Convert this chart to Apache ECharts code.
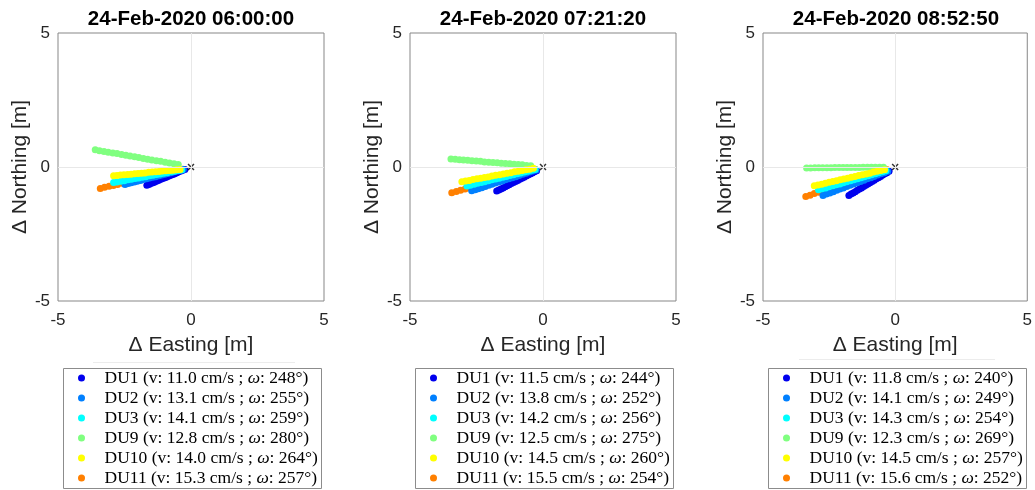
<!DOCTYPE html>
<html>
<head>
<meta charset="utf-8">
<script src="https://cdn.jsdelivr.net/npm/echarts@6/dist/echarts.min.js"></script>
<style>html,body{margin:0;padding:0;background:#fff}#c{width:1035px;height:490px}</style>
</head>
<body>
<div id="c"></div>
<script>
// ---------- DATA ----------
const titles = ['24-Feb-2020 06:00:00', '24-Feb-2020 07:21:20', '24-Feb-2020 08:52:50'];
const drifters = ['DU1', 'DU2', 'DU3', 'DU9', 'DU10', 'DU11'];
const speeds1 = [11.0, 13.1, 14.1, 12.8, 14.0, 15.3];
const dirs1 = [248, 255, 259, 280, 264, 257];
const speeds2 = [11.5, 13.8, 14.2, 12.5, 14.5, 15.5];
const dirs2 = [244, 252, 256, 275, 260, 254];
const speeds3 = [11.8, 14.1, 14.3, 12.3, 14.5, 15.6];
const dirs3 = [240, 249, 254, 269, 257, 252];
const axisTicks = [-5, 0, 5];

// panel 1 tracks (Δ Easting, Δ Northing) in m
const p1_DU1_x = [-0.23,-0.31,-0.38,-0.46,-0.53,-0.61,-0.68,-0.76,-0.83,-0.91,-0.98,-1.06,-1.13,-1.21,-1.28,-1.36,-1.43,-1.51,-1.58,-1.66];
const p1_DU1_y = [-0.09,-0.12,-0.15,-0.18,-0.21,-0.25,-0.28,-0.31,-0.34,-0.37,-0.40,-0.43,-0.46,-0.49,-0.52,-0.56,-0.59,-0.62,-0.65,-0.68];
const p1_DU2_x = [-0.29,-0.41,-0.52,-0.64,-0.75,-0.87,-0.98,-1.10,-1.21,-1.33,-1.44,-1.56,-1.67,-1.79,-1.90,-2.02,-2.13,-2.25,-2.36,-2.48];
const p1_DU2_y = [-0.09,-0.12,-0.15,-0.18,-0.21,-0.24,-0.27,-0.30,-0.33,-0.36,-0.38,-0.41,-0.44,-0.47,-0.50,-0.53,-0.56,-0.59,-0.62,-0.65];
const p1_DU3_x = [-0.35,-0.48,-0.62,-0.75,-0.89,-1.02,-1.16,-1.29,-1.43,-1.56,-1.70,-1.83,-1.97,-2.10,-2.24,-2.37,-2.51,-2.64,-2.78,-2.91];
const p1_DU3_y = [-0.11,-0.13,-0.16,-0.18,-0.21,-0.23,-0.26,-0.28,-0.31,-0.33,-0.36,-0.38,-0.41,-0.43,-0.46,-0.48,-0.51,-0.53,-0.56,-0.58];
const p1_DU9_x = [-0.48,-0.64,-0.81,-0.97,-1.14,-1.30,-1.47,-1.63,-1.79,-1.96,-2.12,-2.29,-2.45,-2.61,-2.78,-2.94,-3.11,-3.27,-3.44,-3.60];
const p1_DU9_y = [0.09,0.12,0.15,0.18,0.21,0.23,0.26,0.29,0.32,0.35,0.38,0.41,0.44,0.47,0.50,0.52,0.55,0.58,0.61,0.64];
const p1_DU10_x = [-0.41,-0.54,-0.67,-0.80,-0.94,-1.07,-1.20,-1.33,-1.46,-1.59,-1.73,-1.86,-1.99,-2.12,-2.25,-2.38,-2.52,-2.65,-2.78,-2.91];
const p1_DU10_y = [-0.09,-0.10,-0.12,-0.13,-0.14,-0.15,-0.17,-0.18,-0.19,-0.20,-0.22,-0.23,-0.24,-0.25,-0.27,-0.28,-0.29,-0.30,-0.32,-0.33];
const p1_DU11_x = [-0.31,-0.47,-0.64,-0.80,-0.96,-1.13,-1.29,-1.45,-1.62,-1.78,-1.94,-2.11,-2.27,-2.43,-2.59,-2.76,-2.92,-3.08,-3.25,-3.41];
const p1_DU11_y = [-0.08,-0.12,-0.16,-0.19,-0.23,-0.27,-0.31,-0.35,-0.38,-0.42,-0.46,-0.50,-0.53,-0.57,-0.61,-0.65,-0.69,-0.72,-0.76,-0.80];

// panel 2 tracks
const p2_DU1_x = [-0.24,-0.32,-0.40,-0.48,-0.56,-0.63,-0.71,-0.79,-0.87,-0.95,-1.03,-1.11,-1.19,-1.27,-1.35,-1.42,-1.50,-1.58,-1.66,-1.74];
const p2_DU1_y = [-0.14,-0.18,-0.22,-0.26,-0.30,-0.34,-0.38,-0.42,-0.46,-0.50,-0.54,-0.58,-0.62,-0.66,-0.70,-0.74,-0.78,-0.82,-0.86,-0.90];
const p2_DU2_x = [-0.26,-0.39,-0.51,-0.64,-0.77,-0.90,-1.02,-1.15,-1.28,-1.41,-1.53,-1.66,-1.79,-1.92,-2.04,-2.17,-2.30,-2.43,-2.55,-2.68];
const p2_DU2_y = [-0.11,-0.15,-0.19,-0.23,-0.27,-0.32,-0.36,-0.40,-0.44,-0.48,-0.52,-0.56,-0.60,-0.64,-0.68,-0.73,-0.77,-0.81,-0.85,-0.89];
const p2_DU3_x = [-0.30,-0.43,-0.57,-0.70,-0.84,-0.97,-1.11,-1.24,-1.38,-1.51,-1.65,-1.78,-1.92,-2.05,-2.19,-2.32,-2.46,-2.59,-2.73,-2.86];
const p2_DU3_y = [-0.09,-0.12,-0.16,-0.19,-0.22,-0.25,-0.29,-0.32,-0.35,-0.38,-0.42,-0.45,-0.48,-0.51,-0.55,-0.58,-0.61,-0.64,-0.68,-0.71];
const p2_DU9_x = [-0.46,-0.62,-0.78,-0.93,-1.09,-1.25,-1.41,-1.57,-1.72,-1.88,-2.04,-2.20,-2.35,-2.51,-2.67,-2.83,-2.99,-3.14,-3.30,-3.46];
const p2_DU9_y = [0.05,0.06,0.08,0.09,0.10,0.12,0.13,0.14,0.16,0.17,0.18,0.19,0.21,0.22,0.23,0.25,0.26,0.27,0.29,0.30];
const p2_DU10_x = [-0.36,-0.50,-0.64,-0.78,-0.93,-1.07,-1.21,-1.35,-1.49,-1.63,-1.78,-1.92,-2.06,-2.20,-2.34,-2.48,-2.63,-2.77,-2.91,-3.05];
const p2_DU10_y = [-0.05,-0.08,-0.10,-0.13,-0.16,-0.18,-0.21,-0.23,-0.26,-0.29,-0.31,-0.34,-0.37,-0.39,-0.42,-0.44,-0.47,-0.50,-0.52,-0.55];
const p2_DU11_x = [-0.28,-0.45,-0.61,-0.78,-0.94,-1.11,-1.27,-1.44,-1.61,-1.77,-1.94,-2.10,-2.27,-2.44,-2.60,-2.77,-2.93,-3.10,-3.26,-3.43];
const p2_DU11_y = [-0.10,-0.15,-0.19,-0.24,-0.28,-0.33,-0.37,-0.42,-0.46,-0.51,-0.55,-0.60,-0.64,-0.69,-0.73,-0.78,-0.82,-0.87,-0.91,-0.96];

// panel 3 tracks
const p3_DU1_x = [-0.23,-0.31,-0.39,-0.47,-0.55,-0.63,-0.71,-0.79,-0.87,-0.95,-1.03,-1.11,-1.19,-1.27,-1.35,-1.43,-1.51,-1.59,-1.67,-1.75];
const p3_DU1_y = [-0.16,-0.21,-0.25,-0.30,-0.35,-0.40,-0.44,-0.49,-0.54,-0.59,-0.63,-0.68,-0.73,-0.78,-0.82,-0.87,-0.92,-0.97,-1.01,-1.06];
const p3_DU2_x = [-0.28,-0.41,-0.54,-0.67,-0.80,-0.92,-1.05,-1.18,-1.31,-1.44,-1.57,-1.70,-1.83,-1.96,-2.09,-2.21,-2.34,-2.47,-2.60,-2.73];
const p3_DU2_y = [-0.16,-0.21,-0.25,-0.30,-0.35,-0.40,-0.44,-0.49,-0.54,-0.59,-0.63,-0.68,-0.73,-0.78,-0.82,-0.87,-0.92,-0.97,-1.01,-1.06];
const p3_DU3_x = [-0.35,-0.48,-0.62,-0.75,-0.89,-1.02,-1.16,-1.29,-1.42,-1.56,-1.69,-1.83,-1.96,-2.09,-2.23,-2.36,-2.50,-2.63,-2.77,-2.90];
const p3_DU3_y = [-0.14,-0.18,-0.21,-0.25,-0.29,-0.33,-0.36,-0.40,-0.44,-0.48,-0.51,-0.55,-0.59,-0.63,-0.66,-0.70,-0.74,-0.78,-0.81,-0.85];
const p3_DU9_x = [-0.44,-0.59,-0.75,-0.90,-1.05,-1.21,-1.36,-1.51,-1.67,-1.82,-1.97,-2.12,-2.28,-2.43,-2.58,-2.74,-2.89,-3.04,-3.20,-3.35];
const p3_DU9_y = [-0.01,-0.01,-0.01,-0.01,-0.01,-0.01,-0.02,-0.02,-0.02,-0.02,-0.02,-0.02,-0.02,-0.03,-0.03,-0.03,-0.03,-0.03,-0.04,-0.04];
const p3_DU10_x = [-0.40,-0.54,-0.68,-0.82,-0.96,-1.10,-1.24,-1.38,-1.52,-1.66,-1.80,-1.94,-2.08,-2.22,-2.36,-2.50,-2.64,-2.78,-2.92,-3.06];
const p3_DU10_y = [-0.10,-0.13,-0.16,-0.19,-0.23,-0.26,-0.29,-0.32,-0.35,-0.38,-0.42,-0.45,-0.48,-0.51,-0.54,-0.57,-0.61,-0.64,-0.67,-0.70];
const p3_DU11_x = [-0.30,-0.46,-0.62,-0.79,-0.95,-1.11,-1.27,-1.43,-1.60,-1.76,-1.92,-2.08,-2.25,-2.41,-2.57,-2.73,-2.89,-3.06,-3.22,-3.38];
const p3_DU11_y = [-0.10,-0.15,-0.21,-0.26,-0.31,-0.36,-0.42,-0.47,-0.52,-0.57,-0.63,-0.68,-0.73,-0.78,-0.84,-0.89,-0.94,-0.99,-1.05,-1.10];

// ---------- STYLE / LAYOUT ----------
const colors = ['#0000ee', '#0080ff', '#00ffff', '#80ff80', '#ffff00', '#ff8000'];
const gridLefts = [58, 410, 763];
const gridTop = 33, gridW = 266, gridH = 268;
const legLefts = [63, 415, 768];
const legTop = 368, legW = 258, legH = 120;

const panels = [
  {speeds: speeds1, dirs: dirs1, xs: [p1_DU1_x,p1_DU2_x,p1_DU3_x,p1_DU9_x,p1_DU10_x,p1_DU11_x], ys: [p1_DU1_y,p1_DU2_y,p1_DU3_y,p1_DU9_y,p1_DU10_y,p1_DU11_y]},
  {speeds: speeds2, dirs: dirs2, xs: [p2_DU1_x,p2_DU2_x,p2_DU3_x,p2_DU9_x,p2_DU10_x,p2_DU11_x], ys: [p2_DU1_y,p2_DU2_y,p2_DU3_y,p2_DU9_y,p2_DU10_y,p2_DU11_y]},
  {speeds: speeds3, dirs: dirs3, xs: [p3_DU1_x,p3_DU2_x,p3_DU3_x,p3_DU9_x,p3_DU10_x,p3_DU11_x], ys: [p3_DU1_y,p3_DU2_y,p3_DU3_y,p3_DU9_y,p3_DU10_y,p3_DU11_y]}
];
const drawOrder = [5, 0, 1, 2, 3, 4];
const tickFont = {fontFamily: 'Liberation Sans, Arial, sans-serif', fontSize: 17, color: '#262626'};
const nameFont = {fontFamily: 'Liberation Sans, Arial, sans-serif', fontSize: 21, color: '#262626'};
const xPath = 'path://M0,1.5L1.5,0L5,3.5L8.5,0L10,1.5L6.5,5L10,8.5L8.5,10L5,6.5L1.5,10L0,8.5L3.5,5Z';

const grid = [], xAxis = [], yAxis = [], series = [], legend = [], title = [], graphic = [];
panels.forEach((p, k) => {
  grid.push({left: gridLefts[k], top: gridTop, width: gridW, height: gridH, show: true,
    borderColor: '#878787', borderWidth: 1, backgroundColor: '#fff'});
  const axisCommon = {type: 'value', gridIndex: k, min: axisTicks[0], max: axisTicks[2],
    interval: axisTicks[1] - axisTicks[0], axisLine: {show: false}, axisTick: {show: false},
    splitLine: {show: false}, nameLocation: 'middle', nameTextStyle: nameFont};
  xAxis.push(Object.assign({}, axisCommon, {name: 'Δ Easting [m]', nameGap: 34,
    axisLabel: Object.assign({margin: 11, showMinLabel: true, showMaxLabel: true}, tickFont)}));
  yAxis.push(Object.assign({}, axisCommon, {name: 'Δ Northing [m]', nameGap: 27,
    axisLabel: Object.assign({margin: 8, showMinLabel: true, showMaxLabel: true}, tickFont)}));
  title.push({text: titles[k], left: gridLefts[k] + gridW / 2, top: 9, padding: 0, textAlign: 'center',
    textStyle: {fontFamily: 'Liberation Sans, Arial, sans-serif', fontWeight: 'bold', fontSize: 20.5, color: '#000'}});
  // zero grid lines
  series.push({type: 'scatter', xAxisIndex: k, yAxisIndex: k, data: [], z: 1, silent: true,
    markLine: {silent: true, symbol: ['none', 'none'], label: {show: false}, animation: false,
      lineStyle: {color: '#e8e8e8', width: 1, type: 'solid'}, data: [{xAxis: 0}, {yAxis: 0}]}});
  const names = drifters.map((d, i) => d + ' (v: ' + p.speeds[i].toFixed(1) + ' cm/s ; ω: ' + p.dirs[i] + '°)');
  drawOrder.forEach(i => {
    series.push({type: 'scatter', name: names[i], xAxisIndex: k, yAxisIndex: k, z: 3,
      symbol: 'circle', symbolSize: 7, itemStyle: {color: colors[i], opacity: 1},
      data: p.xs[i].map((x, j) => [x, p.ys[i][j]])});
  });
  series.push({type: 'scatter', xAxisIndex: k, yAxisIndex: k, z: 4, symbol: xPath, symbolSize: 7,
    itemStyle: {color: '#000'}, data: [[0, 0]]});
  legend.push({data: names, orient: 'vertical', left: legLefts[k] + 15, top: legTop, padding: 0,
    itemWidth: 36, itemHeight: 7, itemGap: 0, icon: 'circle', selectedMode: false,
    formatter: n => n.replace('ω', '{w|ω}'),
    textStyle: {fontFamily: 'Liberation Serif, Times New Roman, serif', fontSize: 17.5, color: '#000', lineHeight: 20,
      rich: {w: {fontFamily: 'Liberation Serif, Times New Roman, serif', fontStyle: 'italic', fontSize: 17.5, lineHeight: 20, color: '#000'}}}});
  graphic.push({type: 'rect', left: legLefts[k], top: legTop, z: -1,
    shape: {x: 0, y: 0, width: legW, height: legH},
    style: {fill: '#fff', stroke: '#8c8c8c', lineWidth: 1}});
});
graphic.push({type: 'line', shape: {x1: 93, y1: 362.5, x2: 295, y2: 362.5}, style: {stroke: '#ececec', lineWidth: 1}});
graphic.push({type: 'line', shape: {x1: 799, y1: 359.5, x2: 995, y2: 359.5}, style: {stroke: '#ececec', lineWidth: 1}});

const chart = echarts.init(document.getElementById('c'), null, {renderer: 'canvas'});
chart.setOption({animation: false, backgroundColor: '#fff', title, grid, xAxis, yAxis, legend, graphic, series});
</script>
</body>
</html>
